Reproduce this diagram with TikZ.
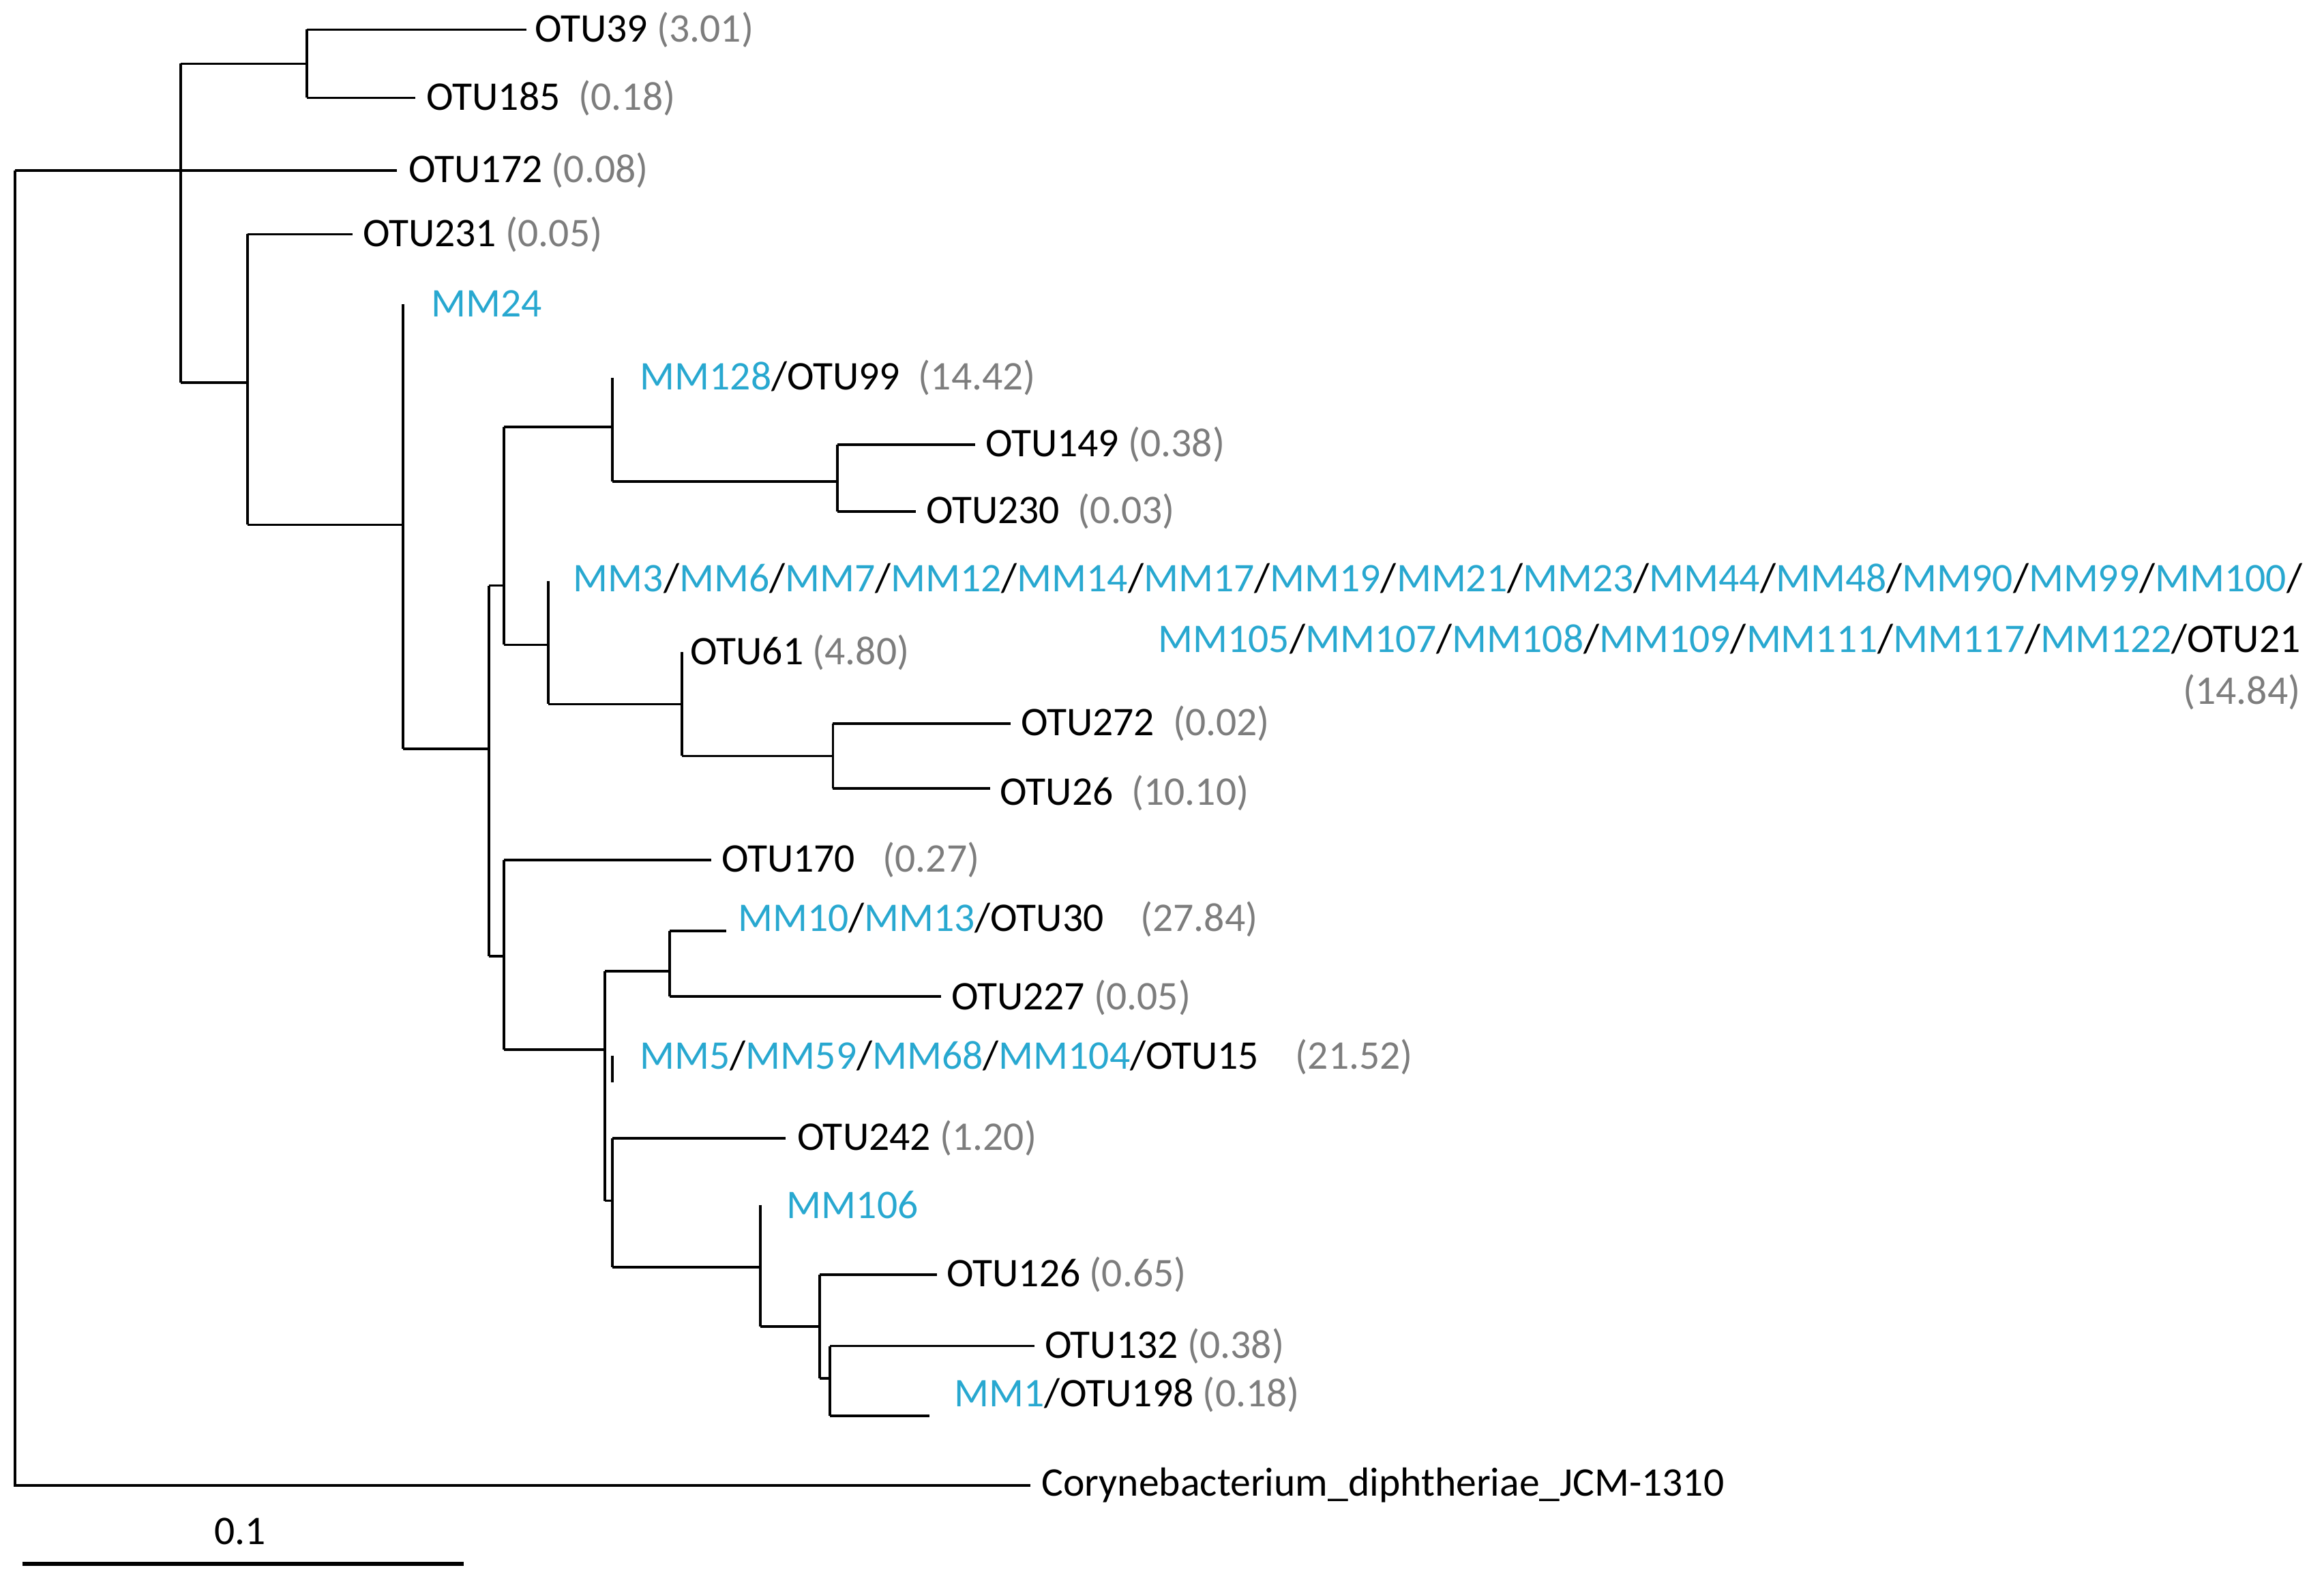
\documentclass[tikz,border=0pt]{standalone}
\usepackage{fontspec}
\setmainfont{Carlito}
\definecolor{mm}{RGB}{40,168,208}
\definecolor{num}{RGB}{125,125,125}
\newcommand{\M}[1]{\textcolor{mm}{#1}}
\newcommand{\N}[1]{\textcolor{num}{#1}}
\begin{document}
\begin{tikzpicture}[x=0.01cm,y=-0.01cm,line width=0.5pt,
  lab/.style={anchor=west,inner sep=0pt,font=\fontsize{7.8pt}{9pt}\selectfont}]
\useasboundingbox (0,0) rectangle (1568,1069);
\draw (10,115) -- (10,1002) -- (695,1002);
\node[lab] (cory) at (702,1002) {Corynebacterium\_diphtheriae\_JCM-1310};
\draw (10,115) -- (268,115);
\node[lab] (o172) at (275,115) {OTU172 \N{(0.08)}};
\draw (122,43) -- (122,258);
\draw (122,43) -- (207,43); \draw (207,20) -- (207,66);
\draw (207,20) -- (355,20); \node[lab] (o39) at (360,20) {OTU39 \N{(3.01)}};
\draw (207,66) -- (280,66); \node[lab] (o185) at (287,66) {OTU185 \ \N{(0.18)}};
\draw (122,258) -- (167,258); \draw (167,158) -- (167,354);
\draw (167,158) -- (238,158); \node[lab] (o231) at (244,158) {OTU231 \N{(0.05)}};
\draw (167,354) -- (272,354); \draw (272,205) -- (272,505);
\node[lab] (mm24) at (290,205) {\M{MM24}};
\draw (272,505) -- (330,505); \draw (330,395) -- (330,645);
\draw (330,395) -- (340,395); \draw (340,288) -- (340,435);
\draw (340,288) -- (413,288); \draw (413,255) -- (413,325);
\node[lab] (mm128) at (431,255) {\M{MM128}/OTU99 \ \N{(14.42)}};
\draw (413,325) -- (565,325); \draw (565,300) -- (565,345);
\draw (565,300) -- (658,300); \node[lab] (o149) at (664,300) {OTU149 \N{(0.38)}};
\draw (565,345) -- (618,345); \node[lab] (o230) at (624,345) {OTU230 \ \N{(0.03)}};
\draw (340,435) -- (370,435); \draw (370,392) -- (370,475);
\node[lab] (mm3) at (386,390) {\M{MM3}/\M{MM6}/\M{MM7}/\M{MM12}/\M{MM14}/\M{MM17}/\M{MM19}/\M{MM21}/\M{MM23}/\M{MM44}/\M{MM48}/\M{MM90}/\M{MM99}/\M{MM100}/};
\node[lab,anchor=east] (mm105) at (1553,431) {\M{MM105}/\M{MM107}/\M{MM108}/\M{MM109}/\M{MM111}/\M{MM117}/\M{MM122}/OTU21};
\node[lab,anchor=east] (n21) at (1553,467) {\N{(14.84)}};
\draw (370,475) -- (460,475); \draw (460,440) -- (460,510);
\node[lab] (o61) at (465,440) {OTU61 \N{(4.80)}};
\draw (460,510) -- (562,510); \draw (562,488) -- (562,532);
\draw (562,488) -- (682,488); \node[lab] (o272) at (688,488) {OTU272 \ \N{(0.02)}};
\draw (562,532) -- (668,532); \node[lab] (o26) at (674,535) {OTU26 \ \N{(10.10)}};
\draw (330,645) -- (340,645); \draw (340,580) -- (340,708);
\draw (340,580) -- (480,580); \node[lab] (o170) at (486,580) {OTU170 \ \ \N{(0.27)}};
\draw (340,708) -- (408,708); \draw (408,655) -- (408,810);
\draw (408,655) -- (452,655); \draw (452,628) -- (452,672);
\draw (452,628) -- (490,628); \node[lab] (mm10) at (497,620) {\M{MM10}/\M{MM13}/OTU30 \ \ \ \N{(27.84)}};
\draw (452,672) -- (635,672); \node[lab] (o227) at (641,673) {OTU227 \N{(0.05)}};
\draw (413,712) -- (413,730);
\node[lab] (mm5) at (431,713) {\M{MM5}/\M{MM59}/\M{MM68}/\M{MM104}/OTU15 \ \ \ \N{(21.52)}};
\draw (408,810) -- (413,810); \draw (413,768) -- (413,855);
\draw (413,768) -- (530,768); \node[lab] (o242) at (537,768) {OTU242 \N{(1.20)}};
\draw (413,855) -- (513,855); \draw (513,813) -- (513,895);
\node[lab] (mm106) at (530,813) {\M{MM106}};
\draw (513,895) -- (553,895); \draw (553,860) -- (553,930);
\draw (553,860) -- (632,860); \node[lab] (o126) at (638,860) {OTU126 \N{(0.65)}};
\draw (553,930) -- (560,930); \draw (560,908) -- (560,955);
\draw (560,908) -- (698,908); \node[lab] (o132) at (704,908) {OTU132 \N{(0.38)}};
\draw (560,955) -- (627,955); \node[lab] (mm1) at (643,941) {\M{MM1}/OTU198 \N{(0.18)}};
\coordinate (sa) at (15,1055); \coordinate (sb) at (313,1055);
\draw[line width=0.9pt] (sa) -- (sb);
\node[lab,anchor=center] (scale) at (162,1033) {0.1};
\end{tikzpicture}
\end{document}
